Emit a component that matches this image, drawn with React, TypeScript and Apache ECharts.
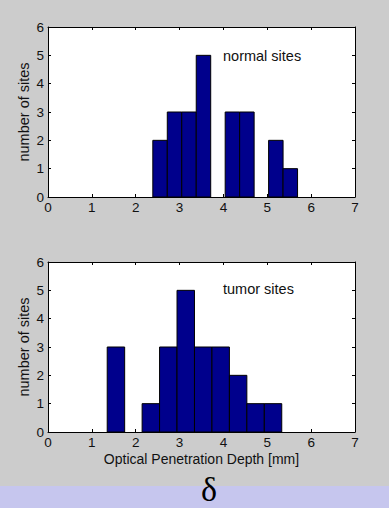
import React, { useEffect, useRef } from "react";
import * as echarts from "echarts";

// Histogram bins (centers in mm) and counts
const normalCenters = [2.555, 2.885, 3.215, 3.545, 3.875, 4.205, 4.535, 4.865, 5.195, 5.525];
const normalCounts = [2, 3, 3, 5, 0, 3, 3, 0, 2, 1];
const normalBinWidth = 0.33;

const tumorCenters = [1.549, 1.947, 2.345, 2.743, 3.141, 3.539, 3.937, 4.335, 4.733, 5.131];
const tumorCounts = [3, 0, 1, 3, 5, 3, 3, 2, 1, 1];
const tumorBinWidth = 0.398;

const xTicks = [0, 1, 2, 3, 4, 5, 6, 7];
const yTicks = [0, 1, 2, 3, 4, 5, 6];

const FONT = "Liberation Sans, Arial, Helvetica, sans-serif";
const BAR_FILL = "#00008c";

function makeRender(width: number) {
  return (params: any, api: any) => {
    const x = api.value(0);
    const y = api.value(1);
    if (!y) return null;
    const p0 = api.coord([x - width / 2, y]);
    const p1 = api.coord([x + width / 2, 0]);
    return {
      type: "rect",
      shape: { x: p0[0], y: p0[1], width: p1[0] - p0[0], height: p1[1] - p0[1] },
      style: { fill: BAR_FILL, stroke: "#000", lineWidth: 1 },
    };
  };
}

function xAxisDef(gridIndex: number, position: "top" | "bottom", showLabel: boolean, name?: string) {
  return {
    gridIndex,
    type: "value",
    position,
    min: xTicks[0],
    max: xTicks[xTicks.length - 1],
    interval: 1,
    name: name || "",
    nameLocation: "middle",
    nameGap: 20,
    nameMoveOverlap: false,
    nameTextStyle: { fontFamily: FONT, fontSize: 14, color: "#111" },
    axisLine: { show: true, onZero: false, lineStyle: { color: "#000", width: 1 } },
    axisTick: { show: true, inside: true, length: 3, lineStyle: { color: "#000" } },
    axisLabel: { show: showLabel, margin: 3, fontFamily: FONT, fontSize: 13.5, color: "#111" },
    splitLine: { show: false },
  };
}

function yAxisDef(gridIndex: number, position: "left" | "right", showLabel: boolean, name?: string) {
  return {
    gridIndex,
    type: "value",
    position,
    min: yTicks[0],
    max: yTicks[yTicks.length - 1],
    interval: 1,
    name: name || "",
    nameLocation: "middle",
    nameGap: 17,
    nameMoveOverlap: false,
    nameTextStyle: { fontFamily: FONT, fontSize: 14.5, color: "#111" },
    axisLine: { show: true, onZero: false, lineStyle: { color: "#000", width: 1 } },
    axisTick: { show: true, inside: true, length: 3, lineStyle: { color: "#000" } },
    axisLabel: { show: showLabel, margin: 4, fontFamily: FONT, fontSize: 13.5, color: "#111" },
    splitLine: { show: false },
  };
}

export default function App() {
  const ref = useRef<HTMLDivElement>(null);

  useEffect(() => {
    document.body.style.margin = "0";
    if (!ref.current) return;
    const chart = echarts.init(ref.current, undefined, { renderer: "svg" });
    chart.setOption({
      animation: false,
      backgroundColor: "#cccccc",
      grid: [
        { left: 48, top: 27, width: 307, height: 170, show: true, backgroundColor: "#ffffff", borderWidth: 0 },
        { left: 48, top: 262, width: 307, height: 170, show: true, backgroundColor: "#ffffff", borderWidth: 0 },
      ],
      xAxis: [
        xAxisDef(0, "bottom", true),
        xAxisDef(0, "top", false),
        xAxisDef(1, "bottom", true, "Optical Penetration Depth [mm]"),
        xAxisDef(1, "top", false),
      ],
      yAxis: [
        yAxisDef(0, "left", true, "number of sites"),
        yAxisDef(0, "right", false),
        yAxisDef(1, "left", true, "number of sites"),
        yAxisDef(1, "right", false),
      ],
      series: [
        {
          type: "custom",
          name: "normal sites",
          xAxisIndex: 0,
          yAxisIndex: 0,
          renderItem: makeRender(normalBinWidth),
          data: normalCenters.map((c, i) => [c, normalCounts[i]]),
        },
        {
          type: "custom",
          name: "tumor sites",
          xAxisIndex: 2,
          yAxisIndex: 2,
          renderItem: makeRender(tumorBinWidth),
          data: tumorCenters.map((c, i) => [c, tumorCounts[i]]),
        },
      ],
      graphic: [
        {
          type: "text",
          left: 223,
          top: 48,
          style: { text: "normal sites", font: `14.5px ${FONT}`, fill: "#111" },
        },
        {
          type: "text",
          left: 223,
          top: 281,
          style: { text: "tumor sites", font: `14.5px ${FONT}`, fill: "#111" },
        },
        {
          type: "rect",
          left: 0,
          top: 486,
          shape: { width: 389, height: 22 },
          style: { fill: "#c6c6ee" },
        },
        {
          type: "text",
          x: 209,
          y: 489,
          style: {
            text: "δ",
            font: `34px "Liberation Serif", "Times New Roman", serif`,
            fill: "#000",
            textAlign: "center",
            textVerticalAlign: "middle",
          },
        },
      ],
    });
    return () => chart.dispose();
  }, []);

  return (
    <div
      ref={ref}
      style={{ position: "absolute", left: 0, top: 0, width: 389, height: 508 }}
    />
  );
}
